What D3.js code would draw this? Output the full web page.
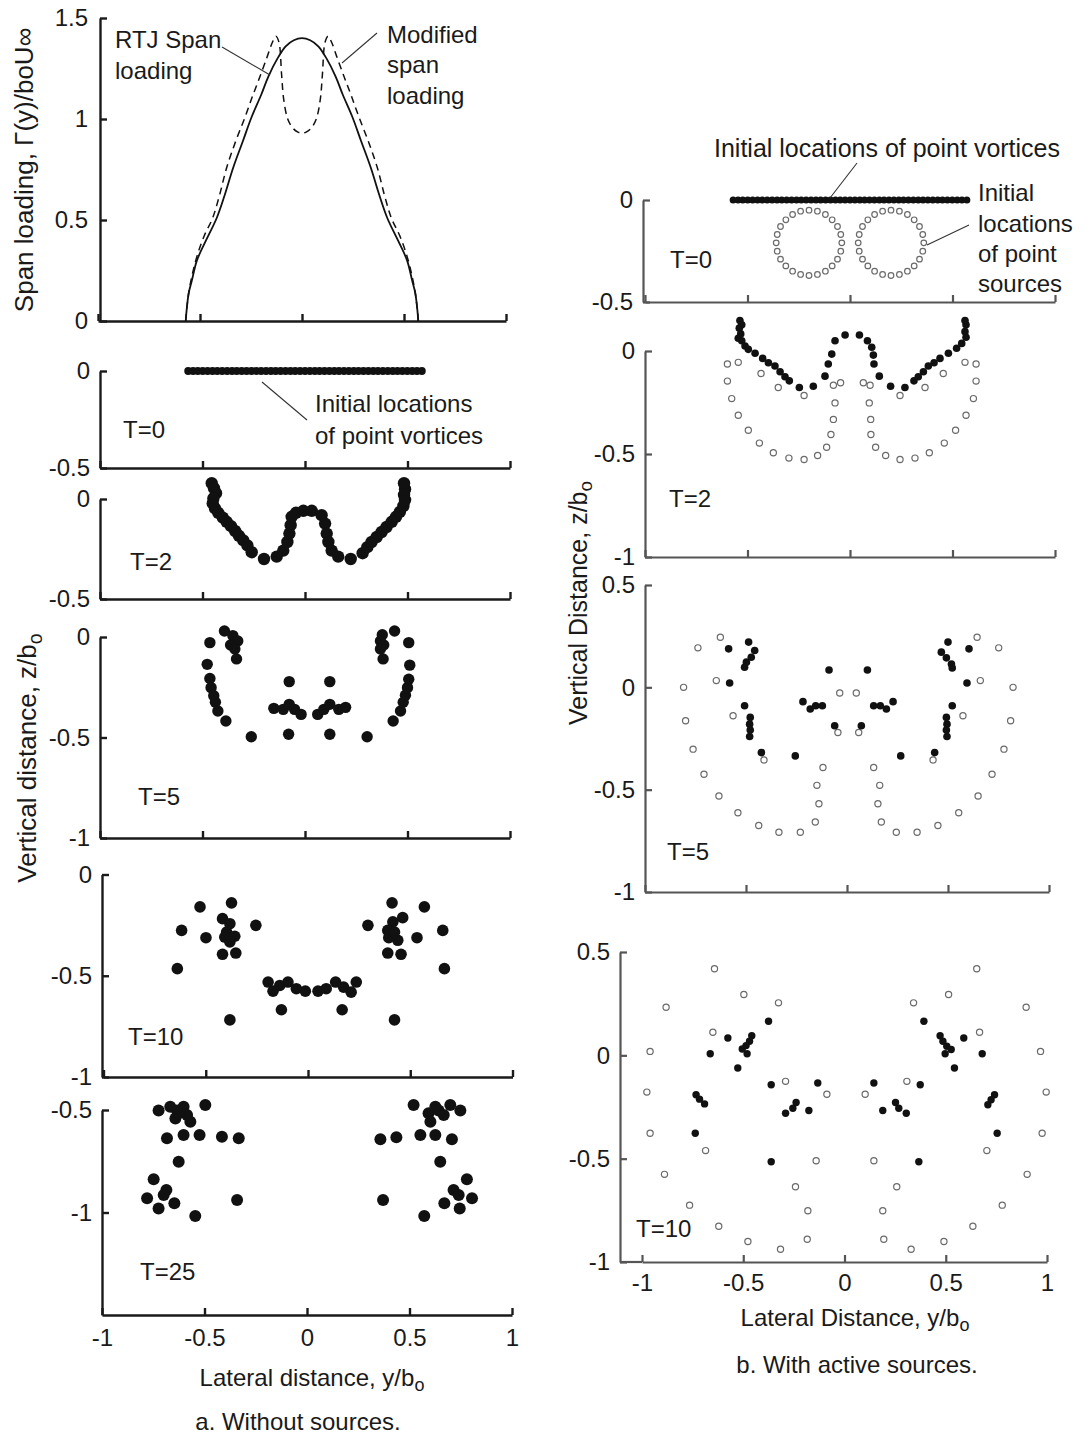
<!DOCTYPE html>
<html><head><meta charset="utf-8">
<script src="https://cdn.jsdelivr.net/npm/d3@7"></script>
<style>
body{margin:0;background:#fff}
svg text{font-family:"Liberation Sans",Arial,Helvetica,sans-serif;fill:#1a1a1a}
</style></head><body>
<svg id="chart" width="1089" height="1437"></svg>
<script>
// ---------------- DATA ----------------
const xTickValues = [-1, -0.5, 0, 0.5, 1];
const spanTicks = [0, 0.5, 1, 1.5];

// span loading Γ(y)/b0U∞ vs y/b0
const rtjSpan = [[-0.57,0],[-0.565,0.06],[-0.555,0.14],[-0.54,0.2],[-0.515,0.3],[-0.47,0.4],[-0.418,0.51],[-0.38,0.62],[-0.337,0.76],[-0.29,0.89],[-0.247,1.01],[-0.2,1.12],[-0.165,1.21],[-0.12,1.3],[-0.08,1.36],[-0.04,1.39],[0,1.4],[0.04,1.39],[0.08,1.36],[0.12,1.3],[0.165,1.21],[0.2,1.12],[0.247,1.01],[0.29,0.89],[0.337,0.76],[0.38,0.62],[0.418,0.51],[0.47,0.4],[0.515,0.3],[0.54,0.2],[0.555,0.14],[0.565,0.06],[0.57,0]];
const modifiedSpan = [[-0.57,0],[-0.565,0.06],[-0.555,0.14],[-0.54,0.22],[-0.515,0.32],[-0.48,0.42],[-0.438,0.51],[-0.405,0.62],[-0.369,0.76],[-0.325,0.89],[-0.279,1.01],[-0.24,1.12],[-0.206,1.21],[-0.17,1.31],[-0.145,1.38],[-0.128,1.41],[-0.113,1.38],[-0.1,1.22],[-0.09,1.1],[-0.07,1.0],[-0.045,0.955],[-0.02,0.935],[0,0.93],[0.02,0.935],[0.045,0.955],[0.07,1.0],[0.09,1.1],[0.1,1.22],[0.113,1.38],[0.128,1.41],[0.145,1.38],[0.17,1.31],[0.206,1.21],[0.24,1.12],[0.279,1.01],[0.325,0.89],[0.369,0.76],[0.405,0.62],[0.438,0.51],[0.48,0.42],[0.515,0.32],[0.54,0.22],[0.555,0.14],[0.565,0.06],[0.57,0]];

// initial vortex positions (y/b0), all at z = 0
const vortexInitY = [-0.57,-0.546,-0.523,-0.499,-0.475,-0.451,-0.428,-0.404,-0.38,-0.356,-0.333,-0.309,-0.285,-0.261,-0.238,-0.214,-0.19,-0.166,-0.143,-0.119,-0.095,-0.071,-0.048,-0.024,0,0.024,0.048,0.071,0.095,0.119,0.143,0.166,0.19,0.214,0.238,0.261,0.285,0.309,0.333,0.356,0.38,0.404,0.428,0.451,0.475,0.499,0.523,0.546,0.57];
const vortexInitZ = 0;

// initial point sources [y, z]
const sourceInit = [[-0.04,-0.21],[-0.045,-0.169],[-0.061,-0.13],[-0.087,-0.097],[-0.12,-0.071],[-0.159,-0.055],[-0.2,-0.05],[-0.241,-0.055],[-0.28,-0.071],[-0.313,-0.097],[-0.339,-0.13],[-0.355,-0.169],[-0.36,-0.21],[-0.355,-0.251],[-0.339,-0.29],[-0.313,-0.323],[-0.28,-0.349],[-0.241,-0.365],[-0.2,-0.37],[-0.159,-0.365],[-0.12,-0.349],[-0.087,-0.323],[-0.061,-0.29],[-0.045,-0.251],
[0.36,-0.21],[0.355,-0.169],[0.339,-0.13],[0.313,-0.097],[0.28,-0.071],[0.241,-0.055],[0.2,-0.05],[0.159,-0.055],[0.12,-0.071],[0.087,-0.097],[0.061,-0.13],[0.045,-0.169],[0.04,-0.21],[0.045,-0.251],[0.061,-0.29],[0.087,-0.323],[0.12,-0.349],[0.159,-0.365],[0.2,-0.37],[0.241,-0.365],[0.28,-0.349],[0.313,-0.323],[0.339,-0.29],[0.355,-0.251]];

// a. without sources: vortex positions [y, z]
const leftT2 = [[-0.455,0.079],[-0.444,0.054],[-0.434,0.029],[-0.447,0.003],[-0.45,-0.022],[-0.439,-0.047],[-0.423,-0.069],[-0.401,-0.093],[-0.382,-0.114],[-0.361,-0.136],[-0.341,-0.16],[-0.322,-0.184],[-0.301,-0.207],[-0.281,-0.232],[-0.26,-0.266],[-0.2,-0.3],[-0.138,-0.288],[-0.106,-0.258],[-0.086,-0.215],[-0.076,-0.173],[-0.07,-0.131],[-0.065,-0.089],[-0.044,-0.069],[-0.008,-0.059],[0.033,-0.059],[0.081,-0.081],[0.098,-0.123],[0.106,-0.173],[0.114,-0.215],[0.13,-0.258],[0.162,-0.288],[0.223,-0.3],[0.281,-0.271],[0.304,-0.241],[0.325,-0.215],[0.35,-0.19],[0.374,-0.165],[0.398,-0.14],[0.423,-0.114],[0.444,-0.089],[0.463,-0.064],[0.48,-0.035],[0.488,-0.005],[0.483,0.02],[0.488,0.049],[0.483,0.079]];
const leftT5 = [[-0.464,-0.028],[-0.393,0.03],[-0.352,0.007],[-0.328,-0.02],[-0.363,-0.04],[-0.342,-0.06],[-0.334,-0.109],[-0.477,-0.136],[-0.464,-0.206],[-0.458,-0.252],[-0.445,-0.292],[-0.437,-0.325],[-0.425,-0.368],[-0.386,-0.418],[-0.262,-0.496],[-0.077,-0.222],[-0.152,-0.355],[-0.106,-0.36],[-0.077,-0.335],[-0.051,-0.36],[-0.019,-0.385],[-0.08,-0.484],[0.062,-0.385],[0.092,-0.36],[0.121,-0.222],[0.121,-0.335],[0.165,-0.36],[0.198,-0.35],[0.121,-0.484],[0.303,-0.496],[0.43,-0.418],[0.466,-0.368],[0.479,-0.325],[0.49,-0.29],[0.5,-0.252],[0.506,-0.21],[0.511,-0.14],[0.506,-0.028],[0.437,0.03],[0.377,0.011],[0.368,-0.02],[0.384,-0.04],[0.368,-0.06],[0.381,-0.109]];
const leftT10 = [[-0.639,-0.465],[-0.618,-0.276],[-0.528,-0.16],[-0.499,-0.312],[-0.418,-0.218],[-0.374,-0.14],[-0.382,-0.243],[-0.398,-0.284],[-0.407,-0.309],[-0.358,-0.305],[-0.382,-0.333],[-0.418,-0.394],[-0.353,-0.388],[-0.255,-0.251],[-0.382,-0.718],[-0.195,-0.531],[-0.171,-0.576],[-0.138,-0.548],[-0.098,-0.531],[-0.057,-0.564],[-0.013,-0.576],[0.049,-0.576],[0.089,-0.564],[0.135,-0.531],[0.174,-0.556],[0.211,-0.581],[0.236,-0.531],[-0.13,-0.668],[0.167,-0.668],[0.293,-0.251],[0.411,-0.14],[0.569,-0.16],[0.463,-0.213],[0.415,-0.234],[0.39,-0.276],[0.395,-0.312],[0.439,-0.325],[0.423,-0.284],[0.533,-0.312],[0.659,-0.276],[0.667,-0.465],[0.39,-0.388],[0.455,-0.394],[0.423,-0.718]];
const leftT25 = [[-0.724,-0.503],[-0.667,-0.484],[-0.634,-0.503],[-0.602,-0.484],[-0.642,-0.541],[-0.585,-0.524],[-0.569,-0.557],[-0.496,-0.476],[-0.626,-0.516],[-0.683,-0.638],[-0.602,-0.622],[-0.524,-0.622],[-0.415,-0.63],[-0.333,-0.638],[-0.626,-0.752],[-0.748,-0.838],[-0.686,-0.89],[-0.699,-0.915],[-0.78,-0.931],[-0.724,-0.98],[-0.647,-0.955],[-0.545,-1.017],[-0.341,-0.939],[0.52,-0.476],[0.593,-0.516],[0.626,-0.484],[0.602,-0.557],[0.642,-0.503],[0.699,-0.476],[0.748,-0.503],[0.667,-0.524],[0.358,-0.643],[0.436,-0.633],[0.553,-0.622],[0.626,-0.622],[0.707,-0.643],[0.65,-0.752],[0.78,-0.838],[0.715,-0.89],[0.74,-0.915],[0.805,-0.931],[0.67,-0.955],[0.745,-0.98],[0.572,-1.017],[0.371,-0.939]];

// b. with active sources: vortices (filled) and sources (open) [y, z]
const rightT2Vortex = [[-0.537,0.148],[-0.528,0.127],[-0.54,0.111],[-0.533,0.083],[-0.545,0.062],[-0.528,0.05],[-0.512,0.024],[-0.496,0.008],[-0.463,-0.011],[-0.426,-0.036],[-0.398,-0.057],[-0.366,-0.073],[-0.341,-0.101],[-0.317,-0.125],[-0.296,-0.145],[-0.247,-0.177],[-0.179,-0.171],[-0.122,-0.122],[-0.106,-0.063],[-0.089,-0.015],[-0.073,0.05],[-0.024,0.078],[0.046,0.078],[0.085,0.05],[0.106,0.018],[0.114,-0.02],[0.117,-0.063],[0.143,-0.122],[0.198,-0.171],[0.268,-0.177],[0.312,-0.145],[0.333,-0.125],[0.358,-0.101],[0.382,-0.073],[0.41,-0.057],[0.439,-0.036],[0.48,-0.011],[0.52,0.013],[0.545,0.037],[0.566,0.067],[0.561,0.094],[0.566,0.127],[0.561,0.148]];
const rightT2Source = [[-0.598,-0.063],[-0.545,-0.055],[-0.434,-0.109],[-0.35,-0.177],[-0.224,-0.216],[-0.081,-0.166],[-0.046,-0.154],[-0.598,-0.146],[-0.577,-0.231],[-0.545,-0.312],[-0.496,-0.385],[-0.442,-0.447],[-0.374,-0.494],[-0.298,-0.52],[-0.224,-0.527],[-0.158,-0.507],[-0.114,-0.467],[-0.093,-0.405],[-0.081,-0.332],[-0.073,-0.252],[0.065,-0.154],[0.098,-0.166],[0.094,-0.252],[0.101,-0.332],[0.102,-0.405],[0.125,-0.467],[0.174,-0.507],[0.244,-0.527],[0.317,-0.52],[0.387,-0.494],[0.46,-0.447],[0.515,-0.385],[0.566,-0.312],[0.602,-0.231],[0.615,-0.146],[0.615,-0.063],[0.561,-0.055],[0.455,-0.109],[0.366,-0.177],[0.244,-0.216]];
const rightT5Vortex = [[-0.586,0.188],[-0.487,0.221],[-0.457,0.18],[-0.474,0.147],[-0.498,0.123],[-0.507,0.098],[-0.581,0.021],[-0.507,-0.09],[-0.479,-0.147],[-0.482,-0.18],[-0.479,-0.209],[-0.482,-0.24],[-0.424,-0.319],[-0.256,-0.335],[-0.089,0.085],[-0.218,-0.07],[-0.182,-0.106],[-0.155,-0.09],[-0.122,-0.09],[-0.061,-0.188],[0.101,0.085],[0.228,-0.07],[0.195,-0.106],[0.165,-0.09],[0.132,-0.09],[0.071,-0.188],[0.266,-0.335],[0.434,-0.319],[0.495,-0.24],[0.492,-0.209],[0.495,-0.18],[0.492,-0.147],[0.521,-0.09],[0.594,0.021],[0.604,0.188],[0.5,0.221],[0.467,0.172],[0.492,0.144],[0.517,0.114],[0.521,0.095]];
const rightT5Source = [[-0.627,0.245],[-0.738,0.193],[-0.647,0.033],[-0.809,0],[-0.799,-0.163],[-0.564,-0.139],[-0.762,-0.302],[-0.708,-0.425],[-0.634,-0.531],[-0.54,-0.613],[-0.437,-0.675],[-0.337,-0.708],[-0.231,-0.708],[-0.157,-0.658],[-0.139,-0.569],[-0.149,-0.479],[-0.119,-0.392],[-0.411,-0.355],[-0.045,-0.221],[-0.036,-0.028],[0.046,-0.028],[0.058,-0.221],[0.132,-0.392],[0.162,-0.479],[0.153,-0.569],[0.17,-0.658],[0.244,-0.708],[0.347,-0.708],[0.45,-0.675],[0.553,-0.613],[0.649,-0.531],[0.718,-0.425],[0.777,-0.302],[0.81,-0.163],[0.822,0],[0.751,0.193],[0.644,0.245],[0.66,0.033],[0.574,-0.139],[0.426,-0.355]];
const rightT10Vortex = [[-0.375,0.165],[-0.576,0.084],[-0.663,0.008],[-0.458,0.095],[-0.469,0.068],[-0.486,0.047],[-0.505,0.031],[-0.481,0.008],[-0.527,-0.061],[-0.733,-0.191],[-0.716,-0.212],[-0.691,-0.235],[-0.737,-0.377],[-0.362,-0.142],[-0.132,-0.134],[-0.291,-0.28],[-0.255,-0.256],[-0.239,-0.228],[-0.176,-0.267],[-0.362,-0.515],[0.392,0.165],[0.589,0.084],[0.68,0.008],[0.472,0.095],[0.486,0.068],[0.505,0.044],[0.527,0.028],[0.497,0.008],[0.543,-0.061],[0.741,-0.191],[0.724,-0.215],[0.708,-0.239],[0.754,-0.377],[0.374,-0.142],[0.145,-0.134],[0.189,-0.267],[0.252,-0.228],[0.268,-0.256],[0.305,-0.28],[0.367,-0.515]];
const rightT10Source = [[-0.642,0.419],[-0.497,0.294],[-0.326,0.254],[-0.881,0.233],[-0.65,0.112],[-0.96,0.019],[-0.976,-0.178],[-0.291,-0.126],[-0.087,-0.188],[-0.96,-0.377],[-0.686,-0.461],[-0.14,-0.51],[-0.889,-0.576],[-0.242,-0.636],[-0.765,-0.725],[-0.181,-0.752],[-0.621,-0.827],[-0.477,-0.901],[-0.316,-0.938],[-0.184,-0.89],[0.653,0.419],[0.514,0.294],[0.341,0.254],[0.897,0.233],[0.667,0.112],[0.968,0.019],[0.996,-0.178],[0.308,-0.126],[0.102,-0.188],[0.976,-0.377],[0.703,-0.461],[0.145,-0.51],[0.902,-0.576],[0.258,-0.636],[0.779,-0.725],[0.189,-0.752],[0.634,-0.827],[0.491,-0.901],[0.329,-0.938],[0.194,-0.89]];

// ---------------- DRAWING ----------------
const svg = d3.select("#chart");
const fmt = d => String(d);
const FS = 24;

function panel(c) {
  const g = svg.append("g");
  const x = d3.scaleLinear().domain([-1, 1]).range(c.xr);
  const y = d3.scaleLinear().domain(c.yDom).range(c.yr);
  const ax = c.axisX !== undefined ? c.axisX : c.xr[0];
  const yAx = g.append("g").attr("transform", `translate(${ax},0)`)
    .call(d3.axisLeft(y).tickValues(c.yTicks).tickSize(-7).tickSizeOuter(0).tickPadding(c.yPad || 10).tickFormat(fmt));
  const xAx = g.append("g").attr("transform", `translate(0,${c.yr[0]})`)
    .call(d3.axisBottom(x).tickValues(xTickValues).tickSize(-7).tickSizeOuter(0).tickPadding(c.xPad || 12)
      .tickFormat(c.xLabels ? fmt : ""));
  if (ax < c.xr[0]) {
    xAx.append("line").attr("x1", ax).attr("x2", x(-1)).attr("y1", 0).attr("y2", 0);
  }
  [yAx, xAx].forEach(a => {
    a.selectAll("path,line").attr("stroke", c.axisColor).attr("stroke-width", c.axisW);
    a.selectAll("text").attr("font-size", FS).attr("font-family", '"Liberation Sans",Arial,sans-serif').attr("fill", "#1a1a1a");
  });
  if (c.label) {
    g.append("text").attr("x", c.label[0]).attr("y", c.label[1]).attr("font-size", FS).text(c.label[2]);
  }
  return { g, x, y };
}

function dots(p, data, r) {
  p.g.append("g").selectAll("circle").data(data).join("circle")
    .attr("cx", d => p.x(d[0])).attr("cy", d => p.y(d[1])).attr("r", r).attr("fill", "#111");
}
function openDots(p, data, r) {
  p.g.append("g").selectAll("circle").data(data).join("circle")
    .attr("cx", d => p.x(d[0])).attr("cy", d => p.y(d[1])).attr("r", r)
    .attr("fill", "#fff").attr("stroke", "#6a6a6a").attr("stroke-width", 1.2);
}
function leader(x1, y1, x2, y2) {
  svg.append("line").attr("x1", x1).attr("y1", y1).attr("x2", x2).attr("y2", y2)
    .attr("stroke", "#333").attr("stroke-width", 1.1);
}
function textLines(x, ys, lines, size) {
  lines.forEach((t, i) => svg.append("text").attr("x", x).attr("y", ys[i]).attr("font-size", size || FS).text(t));
}

const LA = { axisColor: "#1a1a1a", axisW: 2.4 };
const RA = { axisColor: "#555", axisW: 2.2 };

// ---- left column ----
const pSpan = panel({ ...LA, xr: [98, 506], axisX: 100, yDom: [0, 1.5], yr: [321, 18], yTicks: spanTicks, yPad: 12 });
const line = d3.line().x(d => pSpan.x(d[0])).y(d => pSpan.y(d[1])).curve(d3.curveCatmullRom.alpha(0.5));
pSpan.g.append("path").datum(rtjSpan).attr("d", line).attr("fill", "none").attr("stroke", "#111").attr("stroke-width", 1.8);
pSpan.g.append("path").datum(modifiedSpan).attr("d", line).attr("fill", "none").attr("stroke", "#111").attr("stroke-width", 1.5).attr("stroke-dasharray", "7,5");
textLines(115, [48, 79], ["RTJ Span", "loading"]);
leader(222, 47, 270, 75);
textLines(387, [43, 73, 104], ["Modified", "span", "loading"]);
leader(377, 33, 342, 63);

const pL0 = panel({ ...LA, xr: [100, 510], yDom: [-0.5, 0], yr: [468, 371], yTicks: [-0.5, 0], label: [123, 438, "T=0"] });
dots(pL0, vortexInitY.map(v => [v, vortexInitZ]), 3.9);
leader(262, 382, 307, 420);
textLines(315, [412, 444], ["Initial locations", "of point vortices"]);

const pL2 = panel({ ...LA, xr: [100, 510], yDom: [-0.5, 0], yr: [599, 499], yTicks: [-0.5, 0], label: [130, 570, "T=2"] });
dots(pL2, leftT2, 6.2);

const pL5 = panel({ ...LA, xr: [100, 510], yDom: [-1, 0], yr: [838, 637], yTicks: [-1, -0.5, 0], label: [138, 805, "T=5"] });
dots(pL5, leftT5, 5.7);

const pL10 = panel({ ...LA, xr: [103.5, 512.5], axisX: 102, yDom: [-1, 0], yr: [1077, 874.5], yTicks: [-1, -0.5, 0], label: [128, 1045, "T=10"] });
dots(pL10, leftT10, 5.8);

const pL25 = panel({ ...LA, xr: [102, 512], yDom: [-1.5, -0.5], yr: [1315, 1110], yTicks: [-1, -0.5], label: [140, 1280, "T=25"], xLabels: true, xPad: 14 });
dots(pL25, leftT25, 6);

// ---- right column ----
const pR0 = panel({ ...RA, xr: [645, 1055], axisX: 643, yDom: [-0.5, 0], yr: [302, 200], yTicks: [-0.5, 0], label: [670, 268, "T=0"] });
dots(pR0, vortexInitY.map(v => [v, vortexInitZ]), 3.5);
openDots(pR0, sourceInit, 2.8);
textLines(714, [157], ["Initial locations of point vortices"], 25);
leader(857, 163, 830, 198);
textLines(978, [201, 232, 262, 292], ["Initial", "locations", "of point", "sources"]);
leader(969, 225, 927, 245);

const pR2 = panel({ ...RA, xr: [645, 1055], yDom: [-1, 0], yr: [557, 351], yTicks: [-1, -0.5, 0], label: [669, 507, "T=2"] });
openDots(pR2, rightT2Source, 3.1);
dots(pR2, rightT2Vortex, 3.8);

const pR5 = panel({ ...RA, xr: [645, 1049], yDom: [-1, 0.5], yr: [892, 585], yTicks: [-1, -0.5, 0, 0.5], label: [667, 860, "T=5"] });
openDots(pR5, rightT5Source, 3.1);
dots(pR5, rightT5Vortex, 3.8);

const pR10 = panel({ ...RA, xr: [642, 1047], axisX: 620, yDom: [-1, 0.5], yr: [1262, 952], yTicks: [-1, -0.5, 0, 0.5], label: [636, 1237, "T=10"], xLabels: true, xPad: 12 });
openDots(pR10, rightT10Source, 3.1);
dots(pR10, rightT10Vortex, 3.7);

// ---- axis titles / captions ----
function vLabel(x, y, parts, size) {
  const t = svg.append("text").attr("transform", `translate(${x},${y}) rotate(-90)`)
    .attr("text-anchor", "middle").attr("font-size", size).attr("dy", "0.35em");
  parts.forEach(p => {
    const s = t.append("tspan").text(p[0]);
    if (p[1]) s.attr("font-size", size * 0.75).attr("dy", "0.3em");
  });
}
function hLabel(x, y, parts, size) {
  const t = svg.append("text").attr("x", x).attr("y", y).attr("text-anchor", "middle").attr("font-size", size);
  parts.forEach(p => {
    const s = t.append("tspan").text(p[0]);
    if (p[1]) s.attr("font-size", size * 0.75).attr("dy", "0.3em");
  });
}
vLabel(24, 170, [["Span loading, Γ(y)/boU∞"]], 26);
vLabel(27, 758, [["Vertical distance, z/b"], ["o", true]], 26);
vLabel(578, 603, [["Vertical Distance, z/b"], ["o", true]], 25);
hLabel(312, 1386, [["Lateral distance, y/b"], ["o", true]], FS);
hLabel(298, 1430, [["a. Without sources."]], FS);
hLabel(855, 1326, [["Lateral Distance, y/b"], ["o", true]], FS);
hLabel(857, 1373, [["b. With active sources."]], FS);
</script>
</body></html>
